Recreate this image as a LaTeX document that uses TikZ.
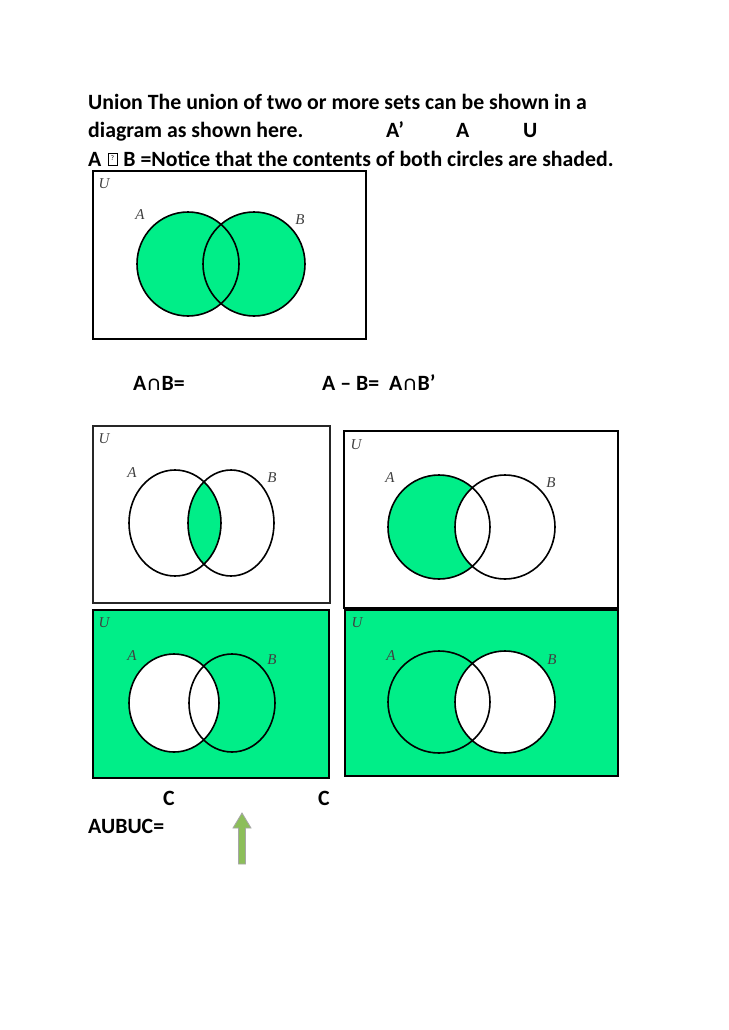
\documentclass[tikz,border=0pt]{standalone}
\usepackage{fontspec}
\setmainfont{Carlito}
\newfontfamily\labf{Liberation Serif}
\definecolor{vg}{RGB}{0,238,136}
\definecolor{ag}{RGB}{140,190,90}
\begin{document}
\begin{tikzpicture}[x=1pt,y=-1pt,
  txt/.style={anchor=base west,inner sep=0,font=\bfseries\fontsize{21.8}{24}\selectfont},
  lab/.style={inner sep=0,font=\labf\itshape\fontsize{15}{16}\selectfont,text=black!75},
  ubox/.style={draw,line width=1.6pt},
  circ/.style={draw,line width=1.6pt}]
\useasboundingbox (0,0) rectangle (728,1030);
\node[txt] (t1) at (88,110) {Union The union of two or more sets can be shown in a};
\node[txt] (t2) at (88,138) {diagram as shown here.};
\node[txt] (t2a) at (386,138) {A’};
\node[txt] (t2b) at (456,138) {A};
\node[txt] (t2c) at (523,138) {U};
\node[txt] (t3) at (88,166) {A\hspace{22pt}B =Notice that the contents of both circles are shaded.};
\draw[line width=0.5pt] (108,153) rectangle (117,165);
\node[inner sep=0,font=\fontsize{7}{8}\selectfont] (qm) at (112.5,158) {?};
% box 1
\fill[vg] (188,264) ellipse (51 and 52) (254,264) ellipse (51 and 52);
\draw[ubox] (93,171) rectangle (366,339);
\draw[circ] (188,264) ellipse (51 and 52) (254,264) ellipse (51 and 52);
\node[lab] (u1) at (104,184) {U};
\node[lab] (a1) at (140,215) {A};
\node[lab] (b1) at (300,220) {B};
\node[txt] (l1) at (133,390) {A∩B=};
\node[txt] (l2) at (322,390) {A – B=\ \ A∩B’};
% box 2
\begin{scope}\clip (175,523) ellipse (46 and 53); \fill[vg] (231,523) ellipse (43 and 53);\end{scope}
\draw[ubox,draw=black!85] (93,426) rectangle (330,603);
\draw[circ] (175,523) ellipse (46 and 53) (231,523) ellipse (43 and 53);
\node[lab] (u2) at (104,439) {U};
\node[lab] (a2) at (132,473) {A};
\node[lab] (b2) at (272,478) {B};
% box 3
\fill[vg] (439,527) ellipse (51 and 52);
\fill[white] (505,527) ellipse (50 and 52);
\draw[ubox] (344,431) rectangle (618,608);
\draw[circ] (439,527) ellipse (51 and 52) (505,527) ellipse (50 and 52);
\node[lab] (u3) at (356,445) {U};
\node[lab] (a3) at (390,478) {A};
\node[lab] (b3) at (551,483) {B};
% box 4
\fill[vg] (93,610) rectangle (329,778);
\fill[white] (174,703) ellipse (45 and 49);
\draw[ubox] (93,610) rectangle (329,778);
\draw[circ] (174,703) ellipse (45 and 49) (232,703) ellipse (43 and 49);
\node[lab] (u4) at (104,623) {U};
\node[lab] (a4) at (132,656) {A};
\node[lab] (b4) at (272,660) {B};
% box 5
\fill[vg] (345,610) rectangle (618,776);
\fill[white] (505,702) ellipse (50 and 51);
\draw[ubox] (345,610) rectangle (618,776);
\draw[circ] (439,702) ellipse (51 and 51) (505,702) ellipse (50 and 51);
\node[lab] (u5) at (357,623) {U};
\node[lab] (a5) at (391,656) {A};
\node[lab] (b5) at (552,660) {B};
% bottom
\node[txt] (c1) at (163,805) {C};
\node[txt] (c2) at (318,805) {C};
\node[txt] (ab) at (88,833) {AUBUC=};
\fill[ag,draw=black!35,line width=0.8pt] (238.5,864) -- (238.5,828) -- (233,828) -- (242,813) -- (251,828) -- (245.5,828) -- (245.5,864) -- cycle;
\end{tikzpicture}
\end{document}
